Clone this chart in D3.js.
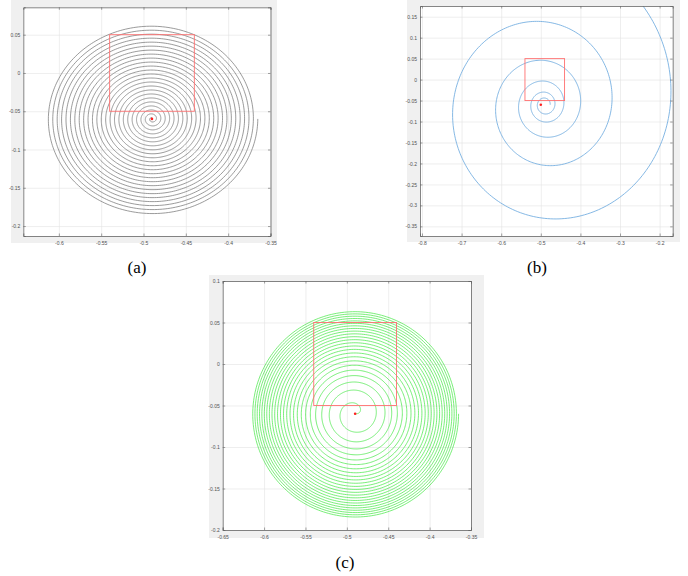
<!DOCTYPE html>
<html>
<head>
<meta charset="utf-8">
<script src="https://cdn.jsdelivr.net/npm/d3@7"></script>
<style>
  body { margin: 0; background: #fff; }
  svg { display: block; }
  .tick-label { font-family: "Liberation Sans", Arial, sans-serif; font-size: 5px; fill: #505050; }
  .caption { font-family: "Liberation Serif", "Times New Roman", serif; font-size: 17px; fill: #000; }
</style>
</head>
<body>
<div id="chart"></div>
<script>
// panel captions
const captions = ['(a)', '(b)', '(c)'];

// tick labels of each panel
const xTicksA = [-0.6, -0.55, -0.5, -0.45, -0.4, -0.35];
const yTicksA = [0.05, 0, -0.05, -0.1, -0.15, -0.2];
const xTicksB = [-0.8, -0.7, -0.6, -0.5, -0.4, -0.3, -0.2];
const yTicksB = [0.15, 0.1, 0.05, 0, -0.05, -0.1, -0.15, -0.2, -0.25, -0.3, -0.35];
const xTicksC = [-0.65, -0.6, -0.55, -0.5, -0.45, -0.4, -0.35];
const yTicksC = [0.1, 0.05, 0, -0.05, -0.1, -0.15, -0.2];

// axis limits
const xLimits = [[-0.642, -0.35], [-0.805, -0.167], [-0.65, -0.35]];
const yLimits = [[-0.213, 0.0858], [-0.373, 0.1755], [-0.2, 0.1]];

// spiral pole, red marker and red window
const spiralPole = [-0.49, -0.06];
const markers = [[-0.49, -0.06], [-0.5, -0.06], [-0.49, -0.06]];
const windowBox = [-0.54, -0.44, -0.05, 0.05]; // x0, x1, y0, y1

// spiral parameters per panel
const spiralKinds = ['archimedean', 'logarithmic', 'fermat'];
const spiralTurns = [24, 5.2, 24];
const spiralOuterR = [0.125, null, 0.125];
const logStartR = 0.0137;
const logGrowth = 0.1;

// layout (pixels)
const panels = [
    { bg: [11, 0, 277, 243], box: [23.3, 7.3, 270.5, 236], color: '#7a7a7a', width: 0.75, cap: [137, 273] },
    { bg: [407, 0, 680, 242], box: [420, 6, 672.7, 236], color: '#6fabdf', width: 0.85, cap: [537, 273] },
    { bg: [209, 275, 484, 538], box: [222.7, 281, 471, 530], color: '#4ee84e', width: 0.75, cap: [345, 568] }
];
const xTicks = [xTicksA, xTicksB, xTicksC];
const yTicks = [yTicksA, yTicksB, yTicksC];

const fmt = v => String(+v.toFixed(2));

const svg = d3.select('#chart').append('svg')
    .attr('width', 688)
    .attr('height', 576);

function spiralPoints(i) {
    const pts = [];
    const turns = spiralTurns[i];
    const tMax = turns * 2 * Math.PI;
    const n = Math.round(turns * 240);
    for (let k = 0; k <= n; k++) {
        const t = tMax * k / n;
        let r;
        if (spiralKinds[i] === 'archimedean') r = spiralOuterR[i] * t / tMax;
        else if (spiralKinds[i] === 'fermat') r = spiralOuterR[i] * Math.sqrt(t / tMax);
        else r = logStartR * Math.exp(logGrowth * t);
        pts.push([spiralPole[0] + r * Math.cos(t), spiralPole[1] + r * Math.sin(t)]);
    }
    return pts;
}

panels.forEach((p, i) => {
    const [bx0, by0, bx1, by1] = p.box;
    const x = d3.scaleLinear().domain(xLimits[i]).range([bx0, bx1]);
    const y = d3.scaleLinear().domain(yLimits[i]).range([by1, by0]);
    const g = svg.append('g');

    // grey figure background
    g.append('rect')
        .attr('x', p.bg[0]).attr('y', p.bg[1])
        .attr('width', p.bg[2] - p.bg[0]).attr('height', p.bg[3] - p.bg[1])
        .attr('fill', '#f0f0f0');

    // white axes area
    g.append('rect')
        .attr('x', bx0).attr('y', by0)
        .attr('width', bx1 - bx0).attr('height', by1 - by0)
        .attr('fill', '#fff');

    // grid
    g.append('g').attr('class', 'x-grid')
        .attr('transform', `translate(0,${by0})`)
        .call(d3.axisBottom(x).tickValues(xTicks[i]).tickSize(by1 - by0).tickFormat(''))
        .call(s => s.select('.domain').remove())
        .call(s => s.selectAll('line').attr('stroke', '#e3e3e3').attr('stroke-width', 0.6));
    g.append('g').attr('class', 'y-grid')
        .attr('transform', `translate(${bx0},0)`)
        .call(d3.axisRight(y).tickValues(yTicks[i]).tickSize(bx1 - bx0).tickFormat(''))
        .call(s => s.select('.domain').remove())
        .call(s => s.selectAll('line').attr('stroke', '#e3e3e3').attr('stroke-width', 0.6));

    // clip
    const clipId = 'clip' + i;
    svg.append('clipPath').attr('id', clipId)
        .append('rect')
        .attr('x', bx0).attr('y', by0)
        .attr('width', bx1 - bx0).attr('height', by1 - by0);

    const plot = g.append('g').attr('clip-path', `url(#${clipId})`);

    // spiral
    const line = d3.line().x(d => x(d[0])).y(d => y(d[1]));
    plot.append('path')
        .datum(spiralPoints(i))
        .attr('d', line)
        .attr('fill', 'none')
        .attr('stroke', p.color)
        .attr('stroke-width', p.width);

    // red window
    plot.append('rect')
        .attr('x', x(windowBox[0]))
        .attr('y', y(windowBox[3]))
        .attr('width', x(windowBox[1]) - x(windowBox[0]))
        .attr('height', y(windowBox[2]) - y(windowBox[3]))
        .attr('fill', 'none')
        .attr('stroke', '#ff7070')
        .attr('stroke-width', 0.9);

    // red marker
    plot.append('circle')
        .attr('cx', x(markers[i][0]))
        .attr('cy', y(markers[i][1]))
        .attr('r', 1.3)
        .attr('fill', '#ff2020');

    // axes with inward ticks
    const tickLen = 2.5;
    g.append('g').attr('transform', `translate(0,${by1})`)
        .call(d3.axisBottom(x).tickValues(xTicks[i]).tickSize(-tickLen).tickPadding(5).tickFormat(fmt));
    g.append('g').attr('transform', `translate(${bx0},0)`)
        .call(d3.axisLeft(y).tickValues(yTicks[i]).tickSize(-tickLen).tickPadding(3).tickFormat(fmt));
    g.append('g').attr('transform', `translate(0,${by0})`)
        .call(d3.axisTop(x).tickValues(xTicks[i]).tickSize(-tickLen).tickFormat(''));
    g.append('g').attr('transform', `translate(${bx1},0)`)
        .call(d3.axisRight(y).tickValues(yTicks[i]).tickSize(-tickLen).tickFormat(''));

    g.selectAll('.domain').attr('stroke', '#666').attr('stroke-width', 0.8);
    g.selectAll('.tick line').filter(function () { return !this.closest('.x-grid') && !this.closest('.y-grid'); })
        .attr('stroke', '#666').attr('stroke-width', 0.6);
    g.selectAll('.tick text').attr('class', 'tick-label').attr('fill', null);

    // caption
    svg.append('text')
        .attr('class', 'caption')
        .attr('x', p.cap[0])
        .attr('y', p.cap[1])
        .attr('text-anchor', 'middle')
        .text(captions[i]);
});
</script>
</body>
</html>
